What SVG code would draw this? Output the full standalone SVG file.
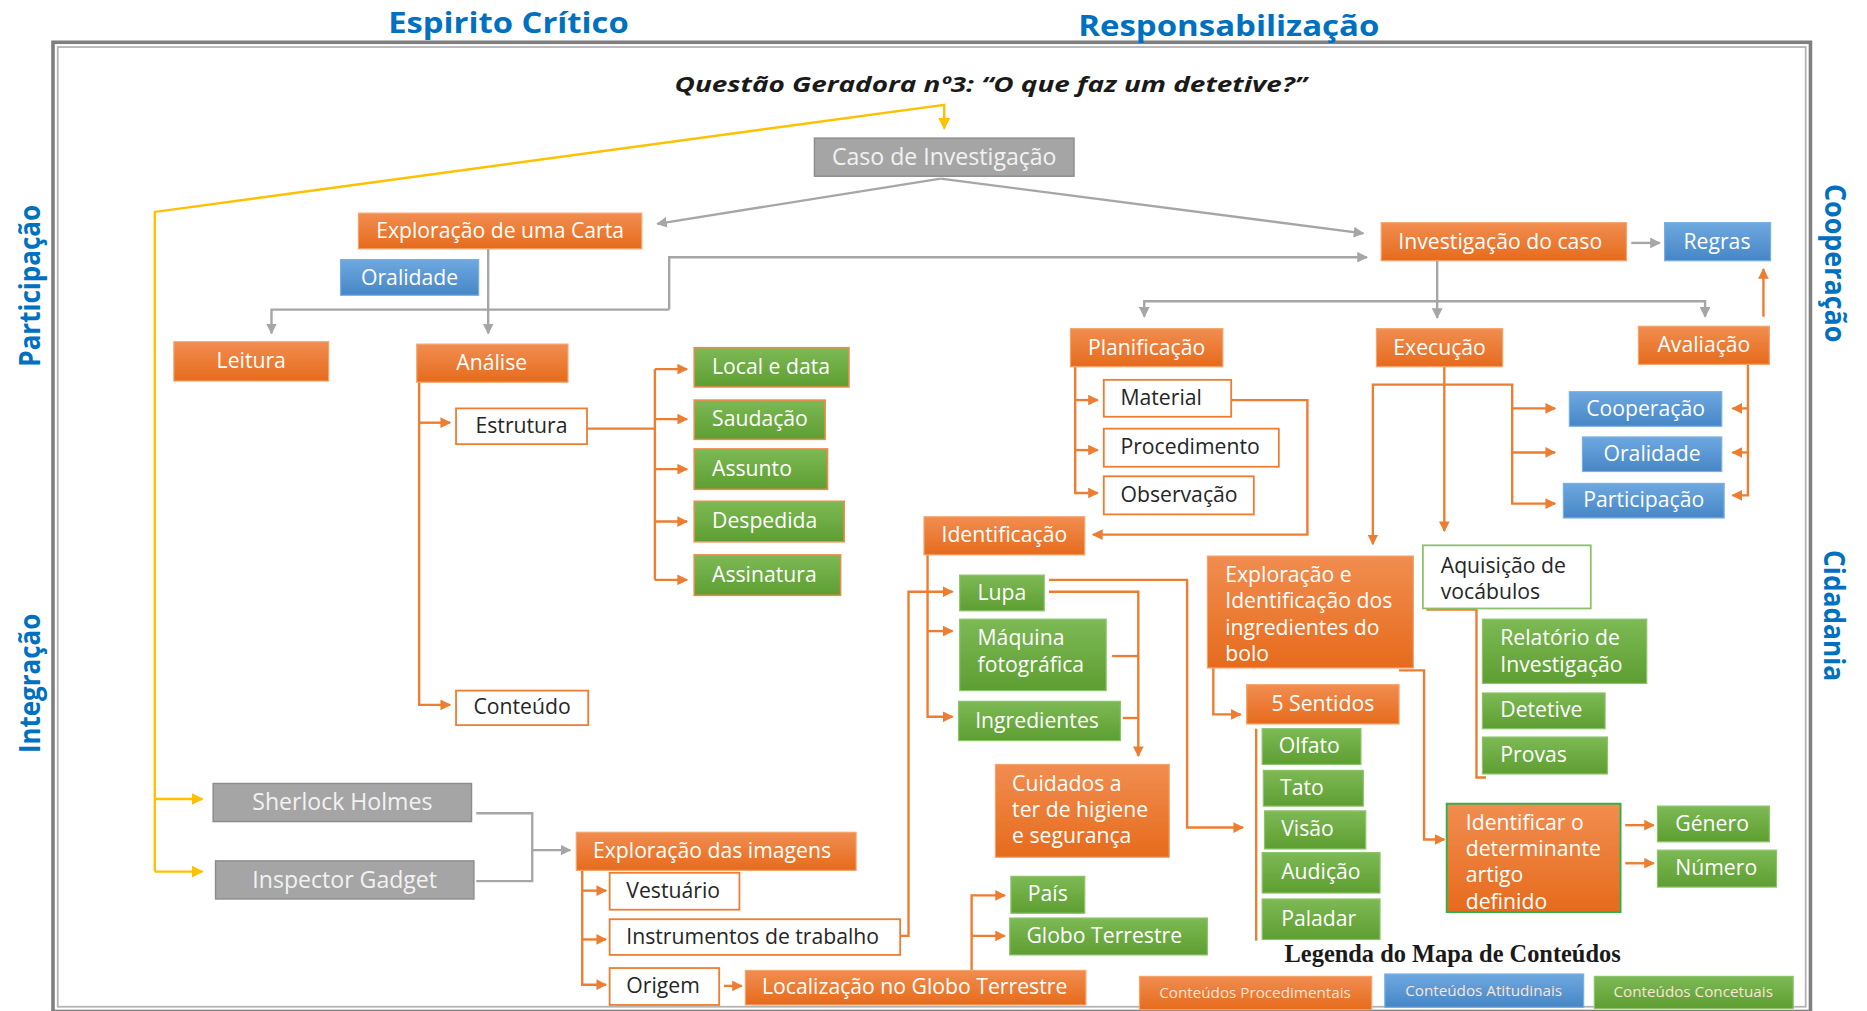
<svg xmlns="http://www.w3.org/2000/svg" width="1867" height="1011" viewBox="0 0 1867 1011">
  <defs>
    <linearGradient id="gO" x1="0" y1="0" x2="0" y2="1">
      <stop offset="0" stop-color="#F18D50"/>
      <stop offset="1" stop-color="#E66B1C"/>
    </linearGradient>
    <linearGradient id="gG" x1="0" y1="0" x2="0" y2="1">
      <stop offset="0" stop-color="#7DB955"/>
      <stop offset="1" stop-color="#5E9E31"/>
    </linearGradient>
    <linearGradient id="gB" x1="0" y1="0" x2="0" y2="1">
      <stop offset="0" stop-color="#6EA8E0"/>
      <stop offset="1" stop-color="#4686C6"/>
    </linearGradient>
    <marker id="aO" viewBox="0 0 10 10" refX="9" refY="5" markerWidth="9" markerHeight="9" markerUnits="userSpaceOnUse" orient="auto">
      <path d="M0,0 L10,5 L0,10 z" fill="#ED7D31"/>
    </marker>
    <marker id="aG" viewBox="0 0 10 10" refX="9" refY="5" markerWidth="9" markerHeight="9" markerUnits="userSpaceOnUse" orient="auto">
      <path d="M0,0 L10,5 L0,10 z" fill="#A6A6A6"/>
    </marker>
    <marker id="aY" viewBox="0 0 10 10" refX="9" refY="5" markerWidth="10" markerHeight="10" markerUnits="userSpaceOnUse" orient="auto">
      <path d="M0,0 L10,5 L0,10 z" fill="#FFC000"/>
    </marker>
    <style>
      .o{fill:url(#gO);stroke:#F4A56E;stroke-width:1}
      .g{fill:url(#gG);stroke:#8CC46A;stroke-width:1}
      .go{fill:url(#gG);stroke:#F08A4B;stroke-width:1.3}
      .b{fill:url(#gB);stroke:#79B0E2;stroke-width:1}
      .gr{fill:#A5A5A5;stroke:#8C8C8C;stroke-width:1.2}
      .w{fill:#FFFFFF;stroke:#ED7D31;stroke-width:1.5}
      .wg{fill:#FFFFFF;stroke:#8CC168;stroke-width:1.5}
      .og{fill:url(#gO);stroke:#2DB34A;stroke-width:1.6}
      text{font-family:"Open Sans","Noto Sans",Lato,sans-serif;font-size:17.8px;fill:#FFFFFF}
      .d{fill:#262626}
      .lg{fill:#F2F2F2;font-size:19.4px}
      .m{text-anchor:middle}
      .head{font-family:"Open Sans","Noto Sans",sans-serif;font-weight:bold;fill:#0070C0;font-size:24px}
      .cO{fill:none;stroke:#ED7D31;stroke-width:2}
      .cG{fill:none;stroke:#A6A6A6;stroke-width:2}
      .cY{fill:none;stroke:#FFC000;stroke-width:2}
      .leg{font-size:12.8px;fill:#FCE4D6;text-anchor:middle}
    </style>
  </defs>

  <rect x="0" y="0" width="1867" height="1011" fill="#FFFFFF"/>

  <g transform="scale(1.1907)">
    <!-- frame -->
    <rect x="44.5" y="35.5" width="1476" height="814" fill="none" stroke="#7F7F7F" stroke-width="3"/>
    <rect x="48.5" y="39.5" width="1468" height="806" fill="none" stroke="#B4B4B4" stroke-width="1.5"/>

    <!-- headings -->
    <text class="head m" x="427" y="28" textLength="202" lengthAdjust="spacingAndGlyphs">Espirito Crítico</text>
    <text class="head m" x="1032" y="30" textLength="253" lengthAdjust="spacingAndGlyphs">Responsabilização</text>
    <text class="head m" transform="translate(34,240) rotate(-90)" textLength="136" lengthAdjust="spacingAndGlyphs">Participação</text>
    <text class="head m" transform="translate(34,574) rotate(-90)" textLength="117" lengthAdjust="spacingAndGlyphs">Integração</text>
    <text class="head m" transform="translate(1533,221) rotate(90)" textLength="133" lengthAdjust="spacingAndGlyphs">Cooperação</text>
    <text class="head m" transform="translate(1532,517) rotate(90)" textLength="110" lengthAdjust="spacingAndGlyphs">Cidadania</text>
    <text class="m" x="832" y="77" style="font-weight:bold;font-style:italic;font-size:18px;fill:#1A1A1A" textLength="531" lengthAdjust="spacingAndGlyphs">Questão Geradora nº3: “O que faz um detetive?”</text>

    <!-- connectors -->
    <g id="connectors">
      <!-- yellow -->
      <path class="cY" d="M130,732 L130,178 L793,88 L793,108" marker-end="url(#aY)"/>
      <path class="cY" d="M130,671 L170,671" marker-end="url(#aY)"/>
      <path class="cY" d="M130,732 L170,732" marker-end="url(#aY)"/>

      <!-- gray -->
      <path class="cG" d="M790,150 L552,188" marker-end="url(#aG)"/>
      <path class="cG" d="M790,150 L1145,196" marker-end="url(#aG)"/>
      <path class="cG" d="M410,209 L410,280" marker-end="url(#aG)"/>
      <path class="cG" d="M562,260 L228,260 L228,280" marker-end="url(#aG)"/>
      <path class="cG" d="M562,260 L562,216 L1148,216" marker-end="url(#aG)"/>
      <path class="cG" d="M1207,219 L1207,267" marker-end="url(#aG)"/>
      <path class="cG" d="M1207,253 L961,253 L961,266" marker-end="url(#aG)"/>
      <path class="cG" d="M1207,253 L1432,253 L1432,266" marker-end="url(#aG)"/>
      <path class="cG" d="M1370,204 L1394,204" marker-end="url(#aG)"/>
      <path class="cG" d="M400,683 L447,683 L447,740 L400,740"/>
      <path class="cG" d="M447,714 L479,714" marker-end="url(#aG)"/>

      <!-- orange -->
      <path class="cO" d="M1481,266 L1481,226" marker-end="url(#aO)"/>
      <path class="cO" d="M352,321 L352,592 L378,592" marker-end="url(#aO)"/>
      <path class="cO" d="M352,355 L378,355" marker-end="url(#aO)"/>

      <path class="cO" d="M493,360 L550,360"/>
      <path class="cO" d="M550,310 L550,487"/>
      <path class="cO" d="M550,310 L577,310" marker-end="url(#aO)"/>
      <path class="cO" d="M550,352 L577,352" marker-end="url(#aO)"/>
      <path class="cO" d="M550,394 L577,394" marker-end="url(#aO)"/>
      <path class="cO" d="M550,438 L577,438" marker-end="url(#aO)"/>
      <path class="cO" d="M550,487 L577,487" marker-end="url(#aO)"/>

      <path class="cO" d="M903,308 L903,414 L922,414" marker-end="url(#aO)"/>
      <path class="cO" d="M903,336 L922,336" marker-end="url(#aO)"/>
      <path class="cO" d="M903,378 L922,378" marker-end="url(#aO)"/>
      <path class="cO" d="M1034,336 L1098,336 L1098,449 L918,449" marker-end="url(#aO)"/>

      <path class="cO" d="M779,466 L779,602 L800,602" marker-end="url(#aO)"/>
      <path class="cO" d="M779,530 L800,530" marker-end="url(#aO)"/>
      <path class="cO" d="M756,786 L763,786 L763,497 L800,497" marker-end="url(#aO)"/>
      <path class="cO" d="M881,487 L997,487 L997,695 L1044,695" marker-end="url(#aO)"/>
      <path class="cO" d="M881,497 L956,497 L956,635" marker-end="url(#aO)"/>
      <path class="cO" d="M934,551 L956,551"/>
      <path class="cO" d="M943,603 L956,603"/>

      <path class="cO" d="M1213,308 L1213,446" marker-end="url(#aO)"/>
      <path class="cO" d="M1213,323 L1153,323 L1153,457" marker-end="url(#aO)"/>
      <path class="cO" d="M1213,323 L1270,323 L1270,423 L1306,423" marker-end="url(#aO)"/>
      <path class="cO" d="M1270,343 L1306,343" marker-end="url(#aO)"/>
      <path class="cO" d="M1270,380 L1306,380" marker-end="url(#aO)"/>

      <path class="cO" d="M1468,306 L1468,416 L1455,416" marker-end="url(#aO)"/>
      <path class="cO" d="M1468,343 L1455,343" marker-end="url(#aO)"/>
      <path class="cO" d="M1468,380 L1455,380" marker-end="url(#aO)"/>

      <path class="cO" d="M1019,561 L1019,600 L1042,600" marker-end="url(#aO)"/>
      <path class="cO" d="M1175,563 L1196,563 L1196,705 L1213,705" marker-end="url(#aO)"/>
      <path class="cO" d="M1055,612 L1055,790"/>
      <path class="cO" d="M1198,512 L1240,512 L1240,653 L1248,653"/>
      <path class="cO" d="M1365,693 L1389,693" marker-end="url(#aO)"/>
      <path class="cO" d="M1365,725 L1389,725" marker-end="url(#aO)"/>

      <path class="cO" d="M489,731 L489,827 L509,827" marker-end="url(#aO)"/>
      <path class="cO" d="M489,748 L509,748" marker-end="url(#aO)"/>
      <path class="cO" d="M489,789 L509,789" marker-end="url(#aO)"/>
      <path class="cO" d="M608,828 L623,828" marker-end="url(#aO)"/>
      <path class="cO" d="M816,815 L816,752 L844,752" marker-end="url(#aO)"/>
      <path class="cO" d="M816,786 L844,786" marker-end="url(#aO)"/>
    </g>

    <!-- nodes -->
    <g id="caso"><rect class="gr" x="684" y="116" width="218" height="32"/><text class="lg m" x="793" y="138.5">Caso de Investigação</text></g>
    <g id="exploracao-carta"><rect class="o" x="301" y="179" width="238" height="30"/><text class="m" x="420" y="200">Exploração de uma Carta</text></g>
    <g id="oralidade-carta"><rect class="b" x="286" y="218" width="116" height="30"/><text class="m" x="344" y="239">Oralidade</text></g>
    <g id="investigacao"><rect class="o" x="1160" y="187" width="206" height="32"/><text class="m" x="1260" y="209">Investigação do caso</text></g>
    <g id="regras"><rect class="b" x="1398" y="187" width="89" height="32"/><text class="m" x="1442" y="209">Regras</text></g>
    <g id="leitura"><rect class="o" x="146" y="287" width="130" height="33"/><text class="m" x="211" y="309">Leitura</text></g>
    <g id="analise"><rect class="o" x="350" y="289" width="127" height="32"/><text class="m" x="413" y="311">Análise</text></g>
    <g id="planificacao"><rect class="o" x="899" y="276" width="128" height="32"/><text class="m" x="963" y="298">Planificação</text></g>
    <g id="execucao"><rect class="o" x="1156" y="276" width="106" height="32"/><text class="m" x="1209" y="298">Execução</text></g>
    <g id="avaliacao"><rect class="o" x="1376" y="274" width="110" height="32"/><text class="m" x="1431" y="296">Avaliação</text></g>

    <g id="estrutura"><rect class="w" x="383" y="343" width="110" height="30"/><text class="d m" x="438" y="363.5">Estrutura</text></g>
    <g id="local-data"><rect class="go" x="583" y="292" width="130" height="33"/><text x="598" y="314">Local e data</text></g>
    <g id="saudacao"><rect class="go" x="583" y="336" width="110" height="33"/><text x="598" y="358">Saudação</text></g>
    <g id="assunto"><rect class="go" x="583" y="377" width="112" height="34"/><text x="598" y="399.5">Assunto</text></g>
    <g id="despedida"><rect class="go" x="583" y="421" width="126" height="34"/><text x="598" y="443.5">Despedida</text></g>
    <g id="assinatura"><rect class="go" x="583" y="466" width="123" height="34"/><text x="598" y="488.5">Assinatura</text></g>
    <g id="conteudo"><rect class="w" x="383" y="580" width="111" height="29"/><text class="d m" x="438.5" y="600">Conteúdo</text></g>

    <g id="material"><rect class="w" x="927" y="319" width="107" height="31"/><text class="d" x="941" y="340">Material</text></g>
    <g id="procedimento"><rect class="w" x="927" y="360" width="147" height="32"/><text class="d" x="941" y="381.5">Procedimento</text></g>
    <g id="observacao"><rect class="w" x="927" y="400" width="126" height="32"/><text class="d" x="941" y="421.5">Observação</text></g>
    <g id="identificacao"><rect class="o" x="776" y="434" width="135" height="32"/><text class="m" x="843.5" y="455.5">Identificação</text></g>

    <g id="cooperacao"><rect class="b" x="1318" y="329" width="128" height="29"/><text class="m" x="1382" y="349">Cooperação</text></g>
    <g id="oralidade-aval"><rect class="b" x="1329" y="367" width="117" height="29"/><text class="m" x="1387.5" y="387">Oralidade</text></g>
    <g id="participacao"><rect class="b" x="1313" y="406" width="135" height="29"/><text class="m" x="1380.5" y="426">Participação</text></g>

    <g id="exploracao-bolo"><rect class="o" x="1014" y="467" width="173" height="94"/>
      <text><tspan x="1029" y="489">Exploração e</tspan><tspan x="1029" y="511">Identificação dos</tspan><tspan x="1029" y="533">ingredientes do</tspan><tspan x="1029" y="555">bolo</tspan></text></g>
    <g id="aquisicao"><rect class="wg" x="1195" y="458" width="141" height="53"/>
      <text class="d"><tspan x="1210" y="481">Aquisição de</tspan><tspan x="1210" y="503">vocábulos</tspan></text></g>
    <g id="relatorio"><rect class="g" x="1245" y="520" width="138" height="54"/>
      <text><tspan x="1260" y="542">Relatório de</tspan><tspan x="1260" y="564">Investigação</tspan></text></g>
    <g id="detetive"><rect class="g" x="1245" y="582" width="103" height="30"/><text x="1260" y="602.5">Detetive</text></g>
    <g id="provas"><rect class="g" x="1245" y="619" width="105" height="31"/><text x="1260" y="640">Provas</text></g>

    <g id="lupa"><rect class="g" x="806" y="483" width="71" height="30"/><text x="821" y="503.5">Lupa</text></g>
    <g id="maquina"><rect class="g" x="806" y="520" width="123" height="60"/>
      <text><tspan x="821" y="542">Máquina</tspan><tspan x="821" y="564">fotográfica</tspan></text></g>
    <g id="ingredientes"><rect class="g" x="805" y="589" width="136" height="33"/><text x="819" y="611">Ingredientes</text></g>
    <g id="cuidados"><rect class="o" x="836" y="642" width="146" height="78"/>
      <text><tspan x="850" y="664">Cuidados a</tspan><tspan x="850" y="686">ter de higiene</tspan><tspan x="850" y="708">e segurança</tspan></text></g>

    <g id="cinco-sentidos"><rect class="o" x="1047" y="575" width="128" height="33"/><text class="m" x="1111" y="597">5 Sentidos</text></g>
    <g id="olfato"><rect class="g" x="1060" y="612" width="83" height="30"/><text x="1074" y="632.5">Olfato</text></g>
    <g id="tato"><rect class="g" x="1061" y="647" width="84" height="30"/><text x="1075" y="667.5">Tato</text></g>
    <g id="visao"><rect class="g" x="1062" y="681" width="85" height="32"/><text x="1076" y="702.5">Visão</text></g>
    <g id="audicao"><rect class="g" x="1060" y="716" width="99" height="34"/><text x="1076" y="738.5">Audição</text></g>
    <g id="paladar"><rect class="g" x="1060" y="755" width="99" height="34"/><text x="1076" y="777.5">Paladar</text></g>

    <g id="identificar"><rect class="og" x="1215" y="675" width="146" height="91"/>
      <text><tspan x="1231" y="697">Identificar o</tspan><tspan x="1231" y="719">determinante</tspan><tspan x="1231" y="741">artigo</tspan><tspan x="1231" y="763">definido</tspan></text></g>
    <g id="genero"><rect class="g" x="1392" y="677" width="94" height="30"/><text x="1407" y="697.5">Género</text></g>
    <g id="numero"><rect class="g" x="1392" y="714" width="100" height="31"/><text x="1407" y="735">Número</text></g>

    <g id="sherlock"><rect class="gr" x="179" y="658" width="217" height="32"/><text class="lg m" x="287.5" y="680.5">Sherlock Holmes</text></g>
    <g id="gadget"><rect class="gr" x="181" y="723" width="217" height="32"/><text class="lg m" x="289.5" y="745.5">Inspector Gadget</text></g>
    <g id="exploracao-imagens"><rect class="o" x="484" y="699" width="235" height="32"/><text x="498" y="720.5">Exploração das imagens</text></g>
    <g id="vestuario"><rect class="w" x="512" y="733" width="109" height="31"/><text class="d" x="526" y="754">Vestuário</text></g>
    <g id="instrumentos"><rect class="w" x="512" y="772" width="244" height="30"/><text class="d" x="526" y="792.5">Instrumentos de trabalho</text></g>
    <g id="origem"><rect class="w" x="512" y="813" width="92" height="31"/><text class="d" x="526" y="834">Origem</text></g>
    <g id="localizacao"><rect class="o" x="626" y="815" width="286" height="29"/><text x="640" y="835">Localização no Globo Terrestre</text></g>
    <g id="pais"><rect class="g" x="849" y="736" width="62" height="31"/><text class="m" x="880" y="757">País</text></g>
    <g id="globo"><rect class="g" x="848" y="771" width="166" height="31"/><text x="862" y="792">Globo Terrestre</text></g>

    <!-- legend -->
    <g id="legenda">
      <text x="1220" y="808" text-anchor="middle" style="font-family:'Liberation Serif','Times New Roman',serif;font-weight:bold;font-size:20.5px;fill:#1A1A1A">Legenda do Mapa de Conteúdos</text>
      <rect class="o" x="957" y="820" width="195" height="28"/><text class="leg" x="1054" y="838.5">Conteúdos Procedimentais</text>
      <rect class="b" x="1163" y="818" width="167" height="28"/><text class="leg" x="1246" y="836.5">Conteúdos Atitudinais</text>
      <rect class="g" x="1339" y="820" width="167" height="27"/><text class="leg" x="1422" y="837.5">Conteúdos Concetuais</text>
    </g>
  </g>
</svg>
